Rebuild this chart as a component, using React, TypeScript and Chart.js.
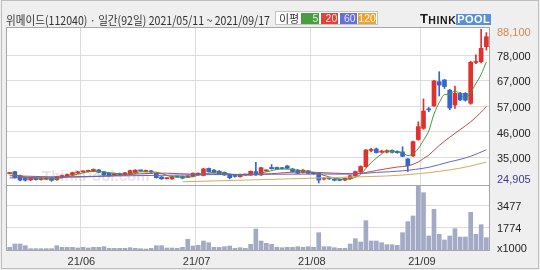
import React, { useEffect, useRef } from 'react';
import { Chart, registerables } from 'chart.js';

Chart.register(...registerables);

const TITLE = '위메이드(112040) · 일간(92일) 2021/05/11 ~ 2021/09/17';
const LEGEND_TITLE = '이평';
const LEGEND_PERIODS = ['5', '20', '60', '120'];

const MONTH_TICK_INDEX = [14, 36, 58, 79];
const MONTH_LABELS = ['21/06', '21/07', '21/08', '21/09'];

const OPEN = [28800,29550,27900,26800,26150,26800,26300,26500,26900,26300,
27300,27700,28300,29000,29500,29700,29700,30300,29500,28900,
28200,28800,28200,28700,29000,30000,29700,29900,28900,27400,
26700,26600,27500,27600,27300,27600,28300,28000,30900,30200,
29800,29300,28500,27900,27500,28200,28200,29600,28200,29900,
31300,31300,31200,31900,30700,30200,29300,29900,29000,28900,
26500,26900,26500,26100,26100,26600,27800,29400,31600,38300,
38900,37600,37600,38300,37900,37700,34800,36000,42800,47400,
55400,56600,66600,67300,63100,57000,61800,61800,57700,74500,
74800,81000];

const HIGH = [29300,29700,28200,27200,27000,27000,26900,27100,27200,27700,
28200,28600,29400,29800,29900,30200,30700,30500,29700,29100,
29000,29000,29300,30200,30400,30200,30200,30100,29100,27600,
27000,27700,27700,27800,28000,29100,29100,30900,31100,30400,
30000,29500,28700,28100,28600,28500,29900,33400,31400,30300,
32500,31500,31400,32100,30900,30400,30400,30100,29300,29100,
27100,27100,26700,26300,27000,28100,29800,32000,38700,39200,
39300,38400,38500,38600,38200,39800,35000,42200,50100,59500,
56000,67100,70700,67500,63400,64800,62200,62100,75000,77600,
88100,86800];

const LOW = [28600,26900,25800,25700,25900,26100,26100,26300,25600,26000,
27000,27500,28100,28800,29300,29500,29500,29100,28000,27700,
28000,28100,28000,28500,28800,29700,29500,29300,26900,26400,
26500,26400,27200,26600,27100,27400,28100,27800,29400,29000,
28600,28000,26600,27300,27300,28000,28000,28000,28000,29700,
30600,30500,30600,30800,29400,28700,29100,28700,28500,24905,
26200,26400,25800,25800,25900,26400,27600,29200,31400,37800,
37200,37300,37300,37300,37100,35700,29600,35800,42500,47000,
54200,56400,60700,63800,55000,55600,58800,58600,57300,74000,
74300,79600];

const CLOSE = [29000,27100,26100,26100,26800,26300,26700,26900,26000,27500,
28000,28400,29200,29500,29600,29900,30500,29300,28200,27900,
28800,28300,29100,30000,30200,29900,30000,29500,27100,26600,
26800,27500,27400,26900,27800,28900,28900,30700,29600,29200,
28800,28200,27100,27600,28400,28300,29700,28200,31200,30000,
30800,30700,30800,31000,29600,28900,30200,28900,28700,26100,
26800,26600,26000,26000,26800,27900,29600,31700,38500,38600,
37400,37900,38200,37500,37400,35900,32000,41900,48100,54500,
55000,66900,65200,64600,55800,61800,59100,59000,74600,74900,
80300,85100];

const VOLUME = [283,540,540,411,180,180,180,180,180,411,
283,283,283,231,283,231,283,283,334,206,
206,206,206,257,206,180,154,206,411,411,
231,231,206,283,900,386,437,771,642,283,
283,334,386,206,257,206,514,1696,771,591,
514,283,257,283,283,334,283,334,283,1413,
334,334,257,206,206,540,951,694,2339,771,
771,642,488,488,437,1413,2262,2699,5090,4498,
1157,3213,1285,848,1157,1722,1079,1079,2981,1285,
2030,1028];

const MA5_DAY = [0,2,4,7,10,13,16,19,22,25,28,31,34,37,40,43,46,49,52,55,58,61,64,66,67,68,69,70,71,72,73,74,75,76,77,78,79,80,81,82,83,84,85,86,87,88,89,90,91];
const MA5 = [28900,27800,27020,26560,27020,28520,29740,29160,28460,29500,29340,27500,27280,28640,29440,28180,28220,29480,30700,30200,29260,27420,26440,27260,28400,30900,33260,35160,36820,38120,37920,37680,37380,36200,36940,39060,42480,46300,53280,57940,61240,61500,62860,61300,60060,62060,65880,69580,74780];

const MA20_DAY = [0,5,10,15,20,25,30,35,40,45,50,55,58,62,66,70,74,76,78,79,80,82,84,86,88,90,91];
const MA20 = [27900,27600,27300,27500,27940,28700,28940,28540,28660,28270,28760,29390,29320,28930,28740,30040,31490,31930,33550,34970,36380,40350,43730,46900,50070,54030,56390];

const MA60_DAY = [0,10,20,30,40,50,59,65,70,75,80,84,86,88,91];
const MA60 = [27000,27400,27800,28100,28400,28500,28590,28570,29250,29920,31370,33610,34630,35910,38570];

const MA120_DAY = [33,45,55,66,72,78,82,86,88,91];
const MA120 = [25400,26100,26700,27400,27800,28700,29700,31000,31900,33500];

const PRICE_TICKS = [88100, 77567, 67035, 56502, 45970, 35437, 24905];
const PRICE_TICK_LABELS = ['88,100', '78,000', '67,000', '57,000', '46,000', '35,000', '24,905'];
const VOLUME_TICKS = [3477, 1774, 0];
const VOLUME_TICK_LABELS = ['3477', '1774', 'x1000'];

const RED = '#e2302c';
const BLUE = '#3465cf';
const GRID = '#dcdcdc';
const LEGEND_COLORS = [
  { bg: '#4a9d40', fg: '#d8f5d0' },
  { bg: '#d8463f', fg: '#ffd8d4' },
  { bg: '#6a6fd8', fg: '#e0e2ff' },
  { bg: '#e6a53c', fg: '#fff2cf' },
];
const MA_COLORS = ['#3f9a3a', '#c24a48', '#6466c8', '#d8aa5e'];

const LABEL_FONT = '11px "Liberation Sans Narrow", "Liberation Sans", Arial, sans-serif';

const framePlugin = {
  id: 'framePlugin',
  beforeDraw(chart: any) {
    const { ctx, chartArea: a, width, height } = chart;
    ctx.save();
    ctx.fillStyle = '#efefef';
    ctx.fillRect(0, 0, width, height);
    ctx.strokeStyle = '#bdbdbd';
    ctx.lineWidth = 1;
    ctx.strokeRect(1.5, 0.5, width - 3, height - 2);
    ctx.fillStyle = '#ffffff';
    ctx.fillRect(a.left, a.top, a.right - a.left, a.bottom - a.top);
    ctx.restore();
  },
  beforeDatasetsDraw(chart: any) {
    const { ctx } = chart;
    const yS = chart.scales.y;
    ctx.save();
    ctx.fillStyle = 'rgba(150,150,150,0.25)';
    ctx.font = 'bold 15px "Liberation Sans", Arial, sans-serif';
    ctx.textBaseline = 'alphabetic';
    ctx.textAlign = 'left';
    ctx.fillText('ThinkPool.com', 42, yS.bottom - 4);
    ctx.restore();
  },
  afterDraw(chart: any) {
    const { ctx, chartArea: a } = chart;
    const yS = chart.scales.y;
    const vS = chart.scales.yv;
    const xS = chart.scales.x;
    ctx.save();
    ctx.strokeStyle = '#a6a6a6';
    ctx.lineWidth = 1;
    ctx.strokeRect(a.left - 0.5, a.top - 0.5, a.right - a.left + 1, a.bottom - a.top);
    ctx.beginPath();
    ctx.moveTo(a.left, yS.bottom + 0.5);
    ctx.lineTo(a.right, yS.bottom + 0.5);
    ctx.stroke();

    ctx.font = LABEL_FONT;
    ctx.textBaseline = 'middle';
    ctx.textAlign = 'left';
    const lx = a.right + 8;
    PRICE_TICKS.forEach((v, i) => {
      let py = yS.getPixelForValue(v) + 1.8;
      py = Math.min(Math.max(py, yS.top + 5), yS.bottom - 5);
      ctx.fillStyle = i === 0 ? '#d08a50' : i === PRICE_TICKS.length - 1 ? '#3b3b9a' : '#222222';
      ctx.fillText(PRICE_TICK_LABELS[i], lx, py);
    });
    VOLUME_TICKS.forEach((v, i) => {
      let py = vS.getPixelForValue(v) + 0.8;
      py = Math.min(py, vS.bottom - 2);
      ctx.fillStyle = '#222222';
      ctx.fillText(VOLUME_TICK_LABELS[i], lx, py);
    });
    ctx.textAlign = 'center';
    MONTH_TICK_INDEX.forEach((d, i) => {
      ctx.fillStyle = '#333333';
      ctx.fillText(MONTH_LABELS[i], xS.getPixelForValue(d) + 1, 262);
    });
    ctx.restore();
  },
};

export default function App() {
  const canvasRef = useRef<HTMLCanvasElement | null>(null);
  const titleRef = useRef<HTMLDivElement | null>(null);

  useEffect(() => {
    if (titleRef.current) {
      const el = titleRef.current;
      el.style.transform = 'none';
      const w = el.scrollWidth;
      if (w > 0) el.style.transform = `scaleX(${264 / w})`;
    }
    const canvas = canvasRef.current;
    if (!canvas) return;
    const center = CLOSE.map((_, i) => i + 0.5);
    const isUp = (i: number) => CLOSE[i] >= OPEN[i];
    const candleColor = (c: any) => (isUp(c.dataIndex) ? RED : BLUE);
    const maPoints = (days: number[], vals: number[]) => days.map((d, k) => ({ x: d + 0.5, y: vals[k] }));
    const maSet = (label: string, days: number[], vals: number[], color: string) => ({
      type: 'line' as const,
      label,
      data: maPoints(days, vals),
      xAxisID: 'x',
      yAxisID: 'y',
      borderColor: color,
      borderWidth: 1,
      pointRadius: 0,
      cubicInterpolationMode: 'monotone' as const,
      order: 0,
    });

    const chart = new Chart(canvas, {
      type: 'bar',
      data: {
        datasets: [
          maSet('MA120', MA120_DAY, MA120, MA_COLORS[3]),
          maSet('MA60', MA60_DAY, MA60, MA_COLORS[2]),
          maSet('MA20', MA20_DAY, MA20, MA_COLORS[1]),
          maSet('MA5', MA5_DAY, MA5, MA_COLORS[0]),
          {
            type: 'bar',
            label: 'body',
            data: center.map((x, i) => ({ x, y: [OPEN[i], CLOSE[i]] })) as any,
            xAxisID: 'x',
            yAxisID: 'y',
            backgroundColor: candleColor,
            borderWidth: 0,
            barThickness: 4,
            minBarLength: 1,
            grouped: false,
            order: 1,
          } as any,
          {
            type: 'bar',
            label: 'wick',
            data: center.map((x, i) => ({ x, y: [LOW[i], HIGH[i]] })) as any,
            xAxisID: 'x',
            yAxisID: 'y',
            backgroundColor: candleColor,
            borderWidth: 0,
            barThickness: 1,
            grouped: false,
            order: 2,
          } as any,
          {
            type: 'bar',
            label: 'volume',
            data: center.map((x, i) => ({ x, y: VOLUME[i] })) as any,
            xAxisID: 'x',
            yAxisID: 'yv',
            backgroundColor: '#a3aac5',
            borderWidth: 0,
            barThickness: 4,
            grouped: false,
            order: 3,
          } as any,
        ],
      },
      options: {
        animation: false,
        responsive: false,
        devicePixelRatio: 1,
        layout: { padding: { left: 7, top: 28, right: 0, bottom: 0 } },
        plugins: { legend: { display: false }, tooltip: { enabled: false }, title: { display: false } },
        scales: {
          x: {
            type: 'linear',
            min: 0,
            max: CLOSE.length,
            position: 'bottom',
            offset: false,
            afterFit: (s: any) => { s.height = 19; },
            afterBuildTicks: (s: any) => { s.ticks = MONTH_TICK_INDEX.map((v) => ({ value: v })); },
            ticks: { display: false },
            grid: { color: GRID, drawTicks: false, offset: false },
            border: { display: false },
          },
          y: {
            type: 'linear',
            position: 'right',
            stack: 'panes',
            stackWeight: 157,
            min: 24080,
            max: 88680,
            afterFit: (s: any) => { s.width = 51; },
            afterBuildTicks: (s: any) => { s.ticks = PRICE_TICKS.slice(1, -1).map((v) => ({ value: v })); },
            ticks: { display: false },
            grid: { color: GRID, drawTicks: false },
            border: { display: false },
          },
          yv: {
            type: 'linear',
            position: 'right',
            stack: 'panes',
            stackWeight: 66,
            min: 0,
            max: 5090,
            afterFit: (s: any) => { s.width = 51; },
            afterBuildTicks: (s: any) => { s.ticks = VOLUME_TICKS.slice(0, -1).map((v) => ({ value: v })); },
            ticks: { display: false },
            grid: { color: GRID, drawTicks: false },
            border: { display: false },
          },
        },
      } as any,
      plugins: [framePlugin],
    });
    return () => chart.destroy();
  }, []);

  const legendLeft = [24.7, 44.7, 64, 82.3];
  const legendWidth = [18.6, 17.6, 16.7, 17.7];

  return (
    <div style={{ position: 'fixed', left: 0, top: 0, width: 540, height: 270, overflow: 'hidden', background: '#efefef' }}>
      <canvas ref={canvasRef} width={540} height={270} style={{ position: 'absolute', left: 0, top: 0, width: 540, height: 270 }} />
      <div
        ref={titleRef}
        style={{
          position: 'absolute', left: 6, top: 13, whiteSpace: 'nowrap', fontFamily: '"Noto Sans CJK KR", sans-serif',
          fontSize: 12, lineHeight: '14px', color: '#333', transformOrigin: 'left top', display: 'inline-block',
        }}
      >
        {TITLE}
      </div>
      <div style={{ position: 'absolute', left: 275, top: 11, width: 103, height: 14, background: '#fff', border: '1px solid #c4c4c4', boxSizing: 'border-box' }}>
        <span style={{ position: 'absolute', left: 3, top: 0, fontSize: 11, lineHeight: '12px', color: '#333', fontFamily: '"Noto Sans CJK KR", sans-serif' }}>{LEGEND_TITLE}</span>
        {LEGEND_PERIODS.map((p, i) => (
          <span
            key={p}
            style={{
              position: 'absolute', left: legendLeft[i], top: 1, width: legendWidth[i], height: 10.5, background: LEGEND_COLORS[i].bg,
              color: LEGEND_COLORS[i].fg, fontSize: 10.5, lineHeight: '11px', textAlign: 'right', fontFamily: '"Liberation Sans", Arial, sans-serif',
              boxSizing: 'border-box', paddingRight: 1,
            }}
          >
            {p}
          </span>
        ))}
      </div>
      <div style={{ position: 'absolute', left: 420, top: 12, height: 13, display: 'flex', alignItems: 'flex-end', fontFamily: '"Liberation Sans", Arial, sans-serif', fontWeight: 'bold' }}>
        <span style={{ fontSize: 13, color: '#1a1a1a', lineHeight: '12px', letterSpacing: 0.3 }}>T</span>
        <span style={{ fontSize: 10.5, color: '#1a1a1a', lineHeight: '10px', letterSpacing: 0.6 }}>HINK</span>
        <span style={{ fontSize: 11, color: '#ffffff', lineHeight: '11px', background: '#5b8fd8', padding: '0 1px 0 1px', letterSpacing: 0.4 }}>POOL</span>
      </div>
    </div>
  );
}
